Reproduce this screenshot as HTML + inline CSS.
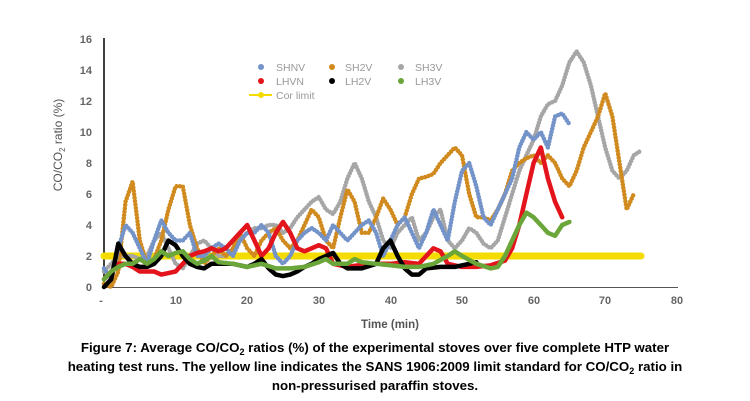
<!DOCTYPE html>
<html><head><meta charset="utf-8"><style>
body{margin:0;background:#fff;width:750px;height:401px;overflow:hidden;font-family:"Liberation Sans",sans-serif}
.cap{position:absolute;left:0;width:750px;text-align:center;font-weight:bold;font-size:13.3px;color:#000;line-height:19px;top:338px}
.cap sub{font-size:9px;line-height:0;vertical-align:-3px}
</style></head><body>
<svg id="s" width="750" height="401" style="position:absolute;left:0;top:0" font-family="Liberation Sans, sans-serif">
<g font-size="11" font-weight="bold" fill="#666" text-anchor="end">
<text x="92" y="291">0</text><text x="92" y="260">2</text><text x="92" y="229">4</text><text x="92" y="198">6</text><text x="92" y="167">8</text><text x="92" y="136">10</text><text x="92" y="105">12</text><text x="92" y="74">14</text><text x="92" y="43">16</text>
</g>
<g font-size="11" font-weight="bold" fill="#666" text-anchor="middle">
<text x="101" y="304">-</text><text x="176" y="304">10</text><text x="247" y="304">20</text><text x="319" y="304">30</text><text x="391" y="304">40</text><text x="462" y="304">50</text><text x="534" y="304">60</text><text x="605" y="304">70</text><text x="677" y="304">80</text>
<text x="390" y="328" font-size="11.5" fill="#555">Time (min)</text>
</g>
<text transform="translate(62,145) rotate(-90)" font-size="12" fill="#555" text-anchor="middle">CO/CO<tspan font-size="8" dy="3">2</tspan><tspan dy="-3"> ratio (%)</tspan></text>
<line x1="104" y1="38" x2="104" y2="288" stroke="#000" stroke-width="1.5"/>
<line x1="104" y1="287.5" x2="678" y2="287.5" stroke="#555" stroke-width="1"/>
<g id="d"></g>
<g font-size="10.5" fill="#999">
<circle cx="261" cy="67" r="3" fill="#7393c9"/><text x="276" y="71">SHNV</text>
<circle cx="332" cy="67" r="3" fill="#d08a1e"/><text x="345" y="71">SH2V</text>
<circle cx="401" cy="67" r="3" fill="#a6a6a6"/><text x="415" y="71">SH3V</text>
<circle cx="261" cy="81" r="3" fill="#e3141b"/><text x="276" y="85">LHVN</text>
<circle cx="332" cy="81" r="3" fill="#000"/><text x="345" y="85">LH2V</text>
<circle cx="401" cy="81" r="3" fill="#6aa63a"/><text x="415" y="85">LH3V</text>
<line x1="249" y1="95" x2="272" y2="95" stroke="#f5dc00" stroke-width="2"/><circle cx="261" cy="95" r="3" fill="#f5dc00"/><text x="276" y="99">Cor limit</text>
</g>
</svg>
<div class="cap">Figure 7: Average CO/CO<sub>2</sub> ratios (%) of the experimental stoves over five complete HTP water<br>heating test runs. The yellow line indicates the SANS 1906:2009 limit standard for CO/CO<sub>2</sub> ratio in<br>non-pressurised paraffin stoves.</div>
<script>
function X(t){return 104+7.16*t}function Y(v){return 287-15.5*v}
function seq(a){var r=[];for(var i=0;i<a.length;i++)r.push([i,a[i]]);return r}
var S=[
["#f5dc00",[[0,2],[75,2]],7,null],
["#a6a6a6",seq([1,1.5,2,2,2,1.8,2,3,3.5,2.5,1.5,1.2,2,2.8,3,2.5,2,2,2.3,3,3.5,3.8,3.8,4,4,3.5,3.8,4.5,5,5.5,5.8,5,4.7,5.5,7,8,7,5.5,4.5,3,2.5,3.5,4,4.5,3,3.5,4.5,5,3,2.5,3,3.8,3.5,2.8,2.5,3,4.5,6,7.5,8.5,9.5,11,11.8,12,13,14.5,15.2,14.5,13,11,9,7.5,7,7.5,8.5,8.8]),4.5,"0 3.2"],
["#d08a1e",seq([0.2,0,1,5.5,6.8,3,1.5,1.8,3,5,6.5,6.5,4,2.5,1.5,2,2.5,2,2.5,3.5,2.5,2,3,3.5,3.8,3,2.5,3,4,5,4.5,3,2.5,4.5,6.3,5.5,3.5,3.5,4.5,5.7,5,4,4.5,6,7,7.1,7.3,8,8.5,9,8.5,6,4.5,4.5,4.3,5,6,7.5,8,8.3,8.5,8,8.5,8,7,6.5,7.5,9,10,11,12.5,11,8,5,6]),4.5,"0 3.4"],
["#7393c9",seq([1.2,0.5,2.5,4,3.5,2.5,1.5,3,4.3,3.5,3,3,3.5,2,2,2.5,2.8,2.5,2,3,3.5,3.5,4,3.5,2,1.5,2,3,3.5,3.8,3.5,3,4,3.5,3,3.5,4,4.3,3.5,2,3,4,4.5,3.5,2.5,3.5,5,4,3,5.5,7.5,8,6.5,4.5,4,5,6,7,9,10,9.5,10,9,11,11.2,10.5]),4.5,"0 3.2"],
["#e3141b",[[0,0.5],[1,1],[2,1.5],[3,1.5],[4,1.3],[5,1],[7,1],[8,0.8],[9,0.9],[10,1],[11,1.5],[12,2],[13,2.2],[14,2.3],[15,2.5],[16,2.3],[17,2.5],[18,3],[19,3.5],[20,4],[21,3],[22,2],[23,2.5],[24,3.5],[25,4.2],[26,3.5],[27,2.5],[28,2.3],[29,2.5],[30,2.7],[31,2.5],[32,1.5],[34,1.3],[37,1.5],[40,1.5],[42,1.6],[44,1.5],[46,2.5],[47,2.3],[48,1.5],[50,1.3],[52,1.3],[54,1.4],[56,1.7],[57,2.5],[58,4],[59,6],[60,8],[61,9],[62,7],[63,5.5],[64,4.5]],4.5,null],
["#000",[[0,0],[1,0.5],[2,2.8],[3,2],[4,1.5],[5,1.3],[6,1.3],[7,1.5],[8,2],[9,3],[10,2.7],[11,2],[12,1.5],[13,1.3],[14,1.2],[15,1.5],[18,1.5],[20,1.3],[21,1.5],[22,1.8],[23,1.2],[24,0.8],[25,0.7],[26,0.8],[27,1],[28,1.3],[29,1.5],[30,1.8],[31,2],[32,2.2],[33,1.5],[34,1.2],[36,1.2],[38,1.5],[39,2.5],[40,3],[41,2],[42,1.2],[43,0.8],[44,0.8],[45,1.2],[47,1.3],[49,1.3],[51,1.5],[52,1.6]],4.5,null],
["#6aa63a",[[0,0.5],[1,1],[2,1.3],[3,1.5],[4,1.5],[5,1.8],[6,1.5],[7,1.8],[8,2.3],[9,2],[10,2.2],[11,2.3],[12,1.8],[13,1.5],[14,1.7],[15,2],[16,1.6],[18,1.5],[20,1.3],[22,1.5],[24,1.2],[26,1.2],[28,1.3],[30,1.6],[31,1.8],[32,1.5],[34,1.5],[35,1.8],[36,1.6],[38,1.5],[40,1.4],[42,1.3],[44,1.3],[46,1.5],[48,2],[49,2.3],[50,2],[52,1.5],[54,1.2],[55,1.3],[56,2],[57,3],[58,4],[59,4.8],[60,4.5],[61,4],[62,3.5],[63,3.3],[64,4],[65,4.2]],4.5,null]
];
var g=document.getElementById('d'),h='';
S.forEach(function(s){var p=s[1].map(function(q){return X(q[0]).toFixed(1)+','+Y(q[1]).toFixed(1)}).join(' ');
h+='<polyline points="'+p+'" fill="none" stroke="'+s[0]+'" stroke-width="'+s[2]+'" stroke-linecap="round" stroke-linejoin="round"'+(s[3]?' stroke-dasharray="'+s[3]+'"':'')+'/>';});
g.innerHTML=h;
</script>
</body></html>
